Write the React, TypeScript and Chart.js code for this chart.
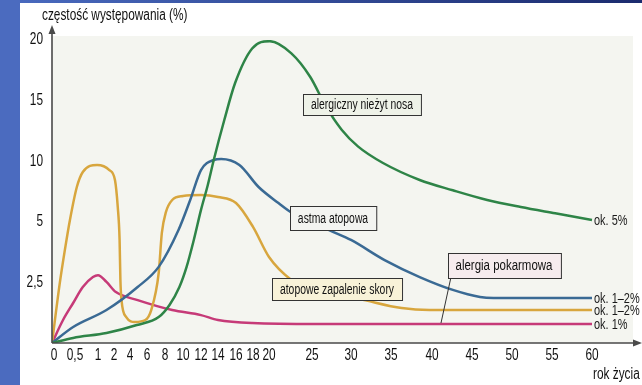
import React, { useEffect, useRef } from "react";
import { Chart, registerables } from "chart.js";

Chart.register(...registerables);

// ---- axis definitions ----
const xTickAges = [0, 0.5, 1, 2, 4, 6, 8, 10, 12, 14, 16, 18, 20, 25, 30, 35, 40, 45, 50, 55, 60];
const xTickLabels = ["0", "0,5", "1", "2", "4", "6", "8", "10", "12", "14", "16", "18", "20", "25", "30", "35", "40", "45", "50", "55", "60"];
// relative widths of the intervals between consecutive x ticks (the printed axis is not linear)
const xTickGaps = [23, 23, 16, 16, 17, 18, 18, 18, 17, 18, 17, 16, 43, 39, 40, 41, 40, 40, 40, 40];
const yTickValues = [0, 2.5, 5, 10, 15, 20];
const yTickLabels = ["", "2,5", "5", "10", "15", "20"];

// ---- series (age in years, prevalence in %) ----
const rhinitisAges = [0, 0.46, 1.53, 4.8, 7.3, 8.5, 9.6, 10.4, 11.2, 12, 12.8, 13.5, 14.7, 15.9, 17.9, 20.1, 22.6, 24.8, 26.8, 28.8, 30.9, 34, 38.5, 42.6, 46.9, 51.1, 55.4, 60];
const rhinitisValues = [0, 0.21, 0.41, 0.74, 1.07, 1.57, 2.31, 3.14, 4.25, 5.98, 8.04, 10.1, 13.4, 16.45, 19.3, 19.9, 18.9, 16.95, 14.5, 12.6, 11.2, 9.85, 8.45, 7.6, 6.8, 6.22, 5.7, 5.15];

const asthmaAges = [0, 0.46, 1.53, 4.9, 7.3, 9.5, 10.8, 12, 13.5, 14.35, 16.4, 18.7, 21.1, 22.7, 24.8, 27.2, 30, 34.2, 38.5, 42.6, 46, 47.7, 60];
const asthmaValues = [0, 0.66, 1.36, 2.31, 3.14, 4.66, 6.8, 9.27, 10.1, 10.18, 9.69, 7.87, 6.55, 5.73, 5.1, 4.66, 4.25, 3.42, 2.72, 2.19, 1.9, 1.86, 1.86];

const dermatitisAges = [0, 0.17, 0.28, 0.39, 0.54, 0.67, 0.98, 1.71, 2.12, 2.47, 2.7, 2.8, 2.94, 3.53, 4.6, 5.8, 6.47, 7.3, 7.65, 8.1, 8.8, 10, 12, 14, 16, 18, 20, 22.6, 24.8, 26, 30.9, 36.3, 39.7, 60];
const dermatitisValues = [0, 2.48, 3.84, 5.15, 7.87, 9.11, 9.69, 9.27, 8.45, 6.22, 4.25, 2.6, 1.77, 1.07, 0.87, 0.95, 1.36, 2.89, 4.54, 5.8, 6.8, 7.13, 7.21, 7.05, 6.55, 4.79, 3.55, 2.6, 2.19, 2.1, 1.82, 1.44, 1.36, 1.36];

const foodAges = [0, 0.24, 0.46, 0.67, 0.89, 1.0, 1.53, 2.24, 4.9, 8.8, 12, 14, 17.9, 25.6, 60];
const foodValues = [0, 0.95, 1.65, 2.31, 2.72, 2.8, 2.52, 2.1, 1.77, 1.36, 1.15, 0.95, 0.82, 0.78, 0.78];

const seriesNames = ["alergiczny nieżyt nosa", "astma atopowa", "atopowe zapalenie skory", "alergia pokarmowa"];
const endLabels = ["ok. 5%", "ok. 1–2%", "ok. 1–2%", "ok. 1%"];
const yAxisTitle = "częstość występowania (%)";
const xAxisTitle = "rok życia";

const FONT = '"Liberation Sans", Arial, sans-serif';

function piecewise(v: number, stops: number[], widths: number[]): number {
  let acc = 0;
  for (let i = 0; i < stops.length - 1; i++) {
    const a = stops[i], b = stops[i + 1];
    if (v <= b || i === stops.length - 2) {
      return acc + (widths[i] * (v - a)) / (b - a);
    }
    acc += widths[i];
  }
  return acc;
}
const toX = (age: number) => piecewise(age, xTickAges, xTickGaps);
const toY = (val: number) => piecewise(val, yTickValues, yTickValues.slice(1).map(() => 1));

function pts(ages: number[], vals: number[]) {
  return ages.map((a, i) => ({ x: toX(a), y: toY(vals[i]) }));
}

// condensed text: the original uses a condensed face, emulated by horizontal scaling
function narrowText(ctx: any, text: string, x: number, y: number, size: number, sx: number, align: string, color = "#111") {
  ctx.save();
  ctx.font = `${size}px ${FONT}`;
  ctx.textBaseline = "middle";
  ctx.textAlign = align;
  ctx.fillStyle = color;
  ctx.translate(x, y);
  ctx.scale(sx, 1);
  ctx.fillText(text, 0, 0);
  ctx.restore();
}
function narrowWidth(ctx: any, text: string, size: number, sx: number) {
  ctx.save();
  ctx.font = `${size}px ${FONT}`;
  const w = ctx.measureText(text).width * sx;
  ctx.restore();
  return w;
}

const overlay = {
  id: "overlay",
  beforeDraw(chart: any) {
    const { ctx, chartArea: a } = chart;
    ctx.save();
    ctx.fillStyle = "#ffffff";
    ctx.fillRect(0, 0, chart.width, chart.height);
    const g = ctx.createLinearGradient(0, 0, chart.width, 0);
    g.addColorStop(0, "#4a6bc0");
    g.addColorStop(1, "#1b2b6e");
    ctx.fillStyle = g;
    ctx.fillRect(0, 0, chart.width, 3);
    ctx.fillStyle = "#4b6bbf";
    ctx.fillRect(0, 0, 20, chart.height);
    ctx.fillStyle = "#f4f5f0";
    ctx.fillRect(a.left, a.top - 4, a.right - a.left, a.bottom - a.top + 4);
    ctx.restore();
  },
  afterDatasetsDraw(chart: any) {
    const { ctx, chartArea: a, scales } = chart;
    ctx.save();
    // axes with arrows
    ctx.strokeStyle = "#4a4a4a";
    ctx.fillStyle = "#4a4a4a";
    ctx.lineWidth = 1.6;
    ctx.beginPath();
    ctx.moveTo(a.left, a.bottom);
    ctx.lineTo(a.left, 31);
    ctx.moveTo(a.left, a.bottom);
    ctx.lineTo(635, a.bottom);
    ctx.stroke();
    ctx.beginPath();
    ctx.moveTo(a.left, 25);
    ctx.lineTo(a.left - 3.5, 34);
    ctx.lineTo(a.left + 3.5, 34);
    ctx.closePath();
    ctx.fill();
    ctx.beginPath();
    ctx.moveTo(642, a.bottom);
    ctx.lineTo(633, a.bottom - 3.5);
    ctx.lineTo(633, a.bottom + 3.5);
    ctx.closePath();
    ctx.fill();
    ctx.restore();

    // tick labels, placed through the scales
    const xs = scales.x, ys = scales.y;
    xTickAges.forEach((age, i) => {
      narrowText(ctx, xTickLabels[i], xs.getPixelForValue(toX(age)) + (i === 0 ? 2 : 0), a.bottom + 13, 16, 0.74, "center");
    });
    yTickValues.forEach((v, i) => {
      if (yTickLabels[i]) narrowText(ctx, yTickLabels[i], a.left - 9, ys.getPixelForValue(toY(v)), 16, 0.74, "right");
    });

    // axis titles
    narrowText(ctx, yAxisTitle, 42, 16, 16, 0.74, "left");
    narrowText(ctx, xAxisTitle, 593, 375, 16, 0.74, "left");

    // leader line for food allergy box
    ctx.save();
    ctx.strokeStyle = "#333";
    ctx.lineWidth = 1;
    ctx.beginPath();
    ctx.moveTo(451, 277);
    ctx.lineTo(441, 323);
    ctx.stroke();
    ctx.restore();

    // series boxes
    const boxes = [
      { text: seriesNames[0], cx: 362, cy: 104, h: 21, size: 14, fill: "#eef2e8" },
      { text: seriesNames[1], cx: 333, cy: 218, h: 24, size: 14, fill: "#f3f4f1" },
      { text: seriesNames[2], cx: 337, cy: 289, h: 22, size: 14, fill: "#f8f2d8" },
      { text: seriesNames[3], cx: 504, cy: 265, h: 25, size: 15.5, fill: "#f6ecee" },
    ];
    boxes.forEach((b) => {
      const w = narrowWidth(ctx, b.text, b.size, 0.74) + 16;
      const x = Math.round(b.cx - w / 2) + 0.5;
      const y = Math.round(b.cy - b.h / 2) + 0.5;
      ctx.save();
      ctx.fillStyle = b.fill;
      ctx.fillRect(x, y, w, b.h);
      ctx.strokeStyle = "#333";
      ctx.lineWidth = 1;
      ctx.strokeRect(x, y, w, b.h);
      ctx.restore();
      narrowText(ctx, b.text, b.cx, b.cy + 1, b.size, 0.74, "center", "#111");
    });

    // end labels next to the last point of each series
    chart.data.datasets.forEach((_: any, i: number) => {
      const meta = chart.getDatasetMeta(i);
      const p = meta.data[meta.data.length - 1];
      narrowText(ctx, endLabels[i], p.x + 2, p.y + 1, 15, 0.73, "left", "#1a1a1a");
    });
  },
};

export default function App() {
  const ref = useRef<HTMLCanvasElement | null>(null);
  useEffect(() => {
    if (!ref.current) return;
    const common = { pointRadius: 0, borderWidth: 2.5, fill: false, cubicInterpolationMode: "monotone" as const };
    const chart = new Chart(ref.current, {
      type: "line",
      data: {
        datasets: [
          { label: seriesNames[0], data: pts(rhinitisAges, rhinitisValues), borderColor: "#2e8447", ...common },
          { label: seriesNames[1], data: pts(asthmaAges, asthmaValues), borderColor: "#3a6a94", ...common },
          { label: seriesNames[2], data: pts(dermatitisAges, dermatitisValues), borderColor: "#d8a63e", ...common },
          { label: seriesNames[3], data: pts(foodAges, foodValues), borderColor: "#c63a78", ...common },
        ],
      },
      options: {
        animation: false,
        responsive: false,
        devicePixelRatio: 1,
        layout: { padding: { top: 40, right: 9, left: 0, bottom: 0 } },
        plugins: { legend: { display: false }, tooltip: { enabled: false } },
        scales: {
          x: {
            type: "linear",
            min: 0,
            max: 581,
            grid: { display: false, drawTicks: false },
            border: { display: false },
            afterBuildTicks: (s: any) => {
              s.ticks = xTickAges.map((a) => ({ value: toX(a) }));
            },
            afterFit: (s: any) => {
              s.height = 42;
            },
            ticks: { display: false, autoSkip: false },
          },
          y: {
            type: "linear",
            min: 0,
            max: 5,
            grid: { display: false, drawTicks: false },
            border: { display: false },
            afterBuildTicks: (s: any) => {
              s.ticks = yTickValues.map((v) => ({ value: toY(v) }));
            },
            afterFit: (s: any) => {
              s.width = 52;
            },
            ticks: { display: false },
          },
        },
      },
      plugins: [overlay],
    });
    return () => chart.destroy();
  }, []);
  return (
    <div style={{ position: "absolute", left: 0, top: 0, width: 642, height: 385 }}>
      <canvas ref={ref} width={642} height={385} />
    </div>
  );
}
